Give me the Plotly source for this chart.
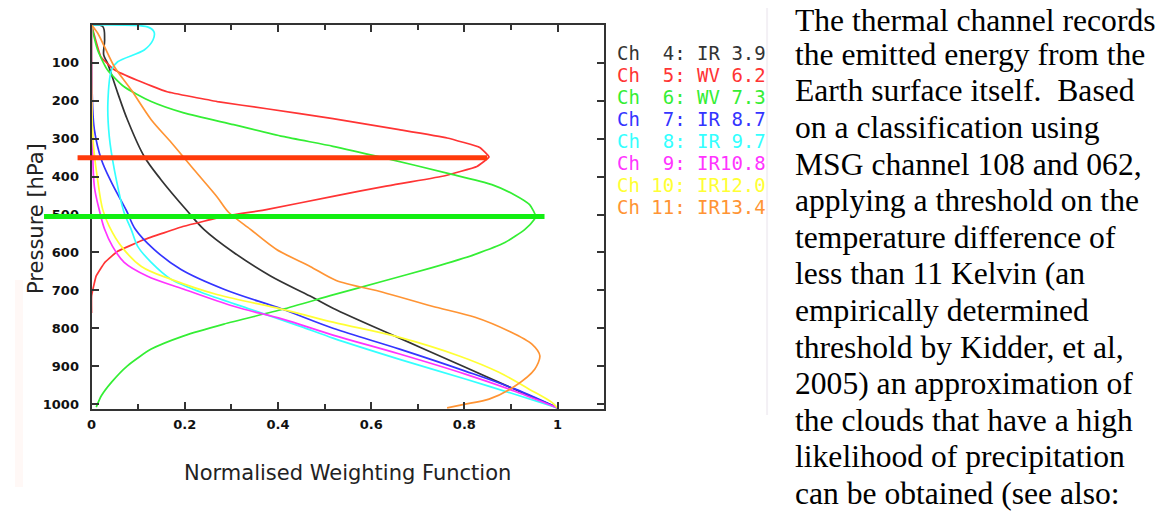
import plotly.graph_objects as go

# normalised weighting function (w) against pressure (p, hPa)
ch4_w = [0.0, 0.024, 0.028, 0.026, 0.034, 0.056, 0.077, 0.113, 0.149, 0.205, 0.241, 0.305, 0.384, 0.469, 0.518, 0.661, 0.802, 0.908, 1.0]
ch4_p = [0, 4, 39, 79, 100, 179, 250, 347, 408, 490, 539, 600, 662, 715, 747, 826, 903, 961, 1010]

ch5_w = [0.0, 0.02, 0.049, 0.098, 0.162, 0.27, 0.376, 0.518, 0.66, 0.763, 0.833, 0.853, 0.827, 0.753, 0.632, 0.518, 0.375, 0.284, 0.198, 0.113, 0.056, 0.028, 0.01, 0.0, 0.0]
ch5_p = [0, 84, 118, 146, 176, 202, 221, 247, 276, 298, 323, 348, 373, 399, 425, 452, 487, 505, 531, 566, 597, 627, 662, 715, 760]

ch6_w = [0.0, 0.002, 0.013, 0.034, 0.07, 0.128, 0.198, 0.305, 0.41, 0.518, 0.625, 0.767, 0.859, 0.906, 0.94, 0.953, 0.95, 0.93, 0.887, 0.823, 0.731, 0.625, 0.518, 0.41, 0.284, 0.198, 0.128, 0.077, 0.043, 0.021, 0.01]
ch6_p = [0, 13, 66, 118, 163, 202, 232, 263, 294, 320, 350, 392, 421, 447, 474, 505, 513, 539, 574, 605, 640, 676, 712, 750, 789, 820, 855, 899, 942, 978, 1008]

ch7_w = [0.0, 0.0, 0.002, 0.006, 0.021, 0.043, 0.075, 0.094, 0.134, 0.192, 0.284, 0.41, 0.518, 0.661, 0.802, 0.908, 1.0]
ch7_p = [0, 74, 205, 276, 355, 416, 490, 539, 592, 645, 697, 750, 800, 855, 913, 960, 1010]

ch8_w = [0.0, 0.12, 0.134, 0.132, 0.113, 0.056, 0.043, 0.035, 0.038, 0.049, 0.07, 0.085, 0.099, 0.128, 0.171, 0.235, 0.341, 0.448, 0.518, 0.661, 0.802, 0.908, 1.0]
ch8_p = [0, 5, 18, 39, 66, 97, 118, 206, 294, 382, 495, 539, 584, 626, 671, 705, 750, 795, 826, 882, 934, 974, 1010]

ch9_w = [0.0, 0.002, 0.006, 0.017, 0.028, 0.045, 0.07, 0.119, 0.198, 0.305, 0.41, 0.518, 0.661, 0.802, 0.908, 1.0]
ch9_p = [0, 300, 426, 490, 539, 584, 626, 662, 697, 742, 776, 818, 868, 921, 966, 1010]

ch10_w = [0.0, 0.003, 0.013, 0.024, 0.038, 0.064, 0.107, 0.171, 0.269, 0.41, 0.518, 0.661, 0.789, 0.874, 0.938, 0.987, 1.0]
ch10_p = [0, 300, 408, 487, 531, 584, 637, 671, 711, 750, 784, 824, 873, 916, 960, 995, 1010]

ch11_w = [0.0, 0.013, 0.028, 0.049, 0.085, 0.128, 0.171, 0.22, 0.269, 0.294, 0.341, 0.397, 0.469, 0.525, 0.625, 0.731, 0.823, 0.896, 0.945, 0.962, 0.951, 0.908, 0.853, 0.802, 0.763]
ch11_p = [0, 21, 58, 110, 171, 250, 310, 382, 453, 494, 539, 592, 637, 674, 705, 742, 771, 808, 842, 873, 908, 953, 987, 1000, 1010]

channel_labels = ["Ch  4: IR 3.9", "Ch  5: WV 6.2", "Ch  6: WV 7.3", "Ch  7: IR 8.7",
                  "Ch  8: IR 9.7", "Ch  9: IR10.8", "Ch 10: IR12.0", "Ch 11: IR13.4"]
channel_colors = ["#333333", "#ff3434", "#34ee34", "#3434ff", "#34ffff", "#ff34ff", "#ffff34", "#ff9434"]
series_w = [ch4_w, ch5_w, ch6_w, ch7_w, ch8_w, ch9_w, ch10_w, ch11_w]
series_p = [ch4_p, ch5_p, ch6_p, ch7_p, ch8_p, ch9_p, ch10_p, ch11_p]
smooth = [1.0, 0.3, 0.6, 1.0, 0.8, 1.0, 1.0, 0.8]

# peak-level markers (thick horizontal bars)
peak_p = [350, 505]
peak_w_start = [-0.03, -0.102]
peak_w_end = [0.849, 0.972]
peak_colors = ["#ff3a0a", "#12ef12"]

p_ticks = [100, 200, 300, 400, 500, 600, 700, 800, 900, 1000]
w_ticks = [0, 0.2, 0.4, 0.6, 0.8, 1]
w_tick_text = ["0", "0.2", "0.4", "0.6", "0.8", "1"]

text_lines = ["The thermal channel records", "the emitted energy from the",
              "Earth surface itself.  Based", "on a classification using",
              "MSG channel 108 and 062,", "applying a threshold on the",
              "temperature difference of", "less than 11 Kelvin (an",
              "empirically determined", "threshold by Kidder, et al,",
              "2005) an approximation of", "the clouds that have a high",
              "likelihood of precipitation", "can be obtained (see also:"]

# page geometry (pixels, page coords); the page body adds an 8px margin
OFF = 8
W, H = 1166 - OFF, 512 - OFF
L, R, T, B = 20, 780, 25, 409
AX_L, AX_R = 87, 603
X_MAX, P_MAX = 1.1, 1013


def px(x):
    return (x - L) / (R - L)


def py(y):
    return (B - y) / (B - T)


nb = lambda s: s.replace(" ", "\u00a0")

fig = go.Figure()
for w, p, col, sm in zip(series_w, series_p, channel_colors, smooth):
    fig.add_trace(go.Scatter(x=w, y=p, mode="lines", line=dict(color=col, width=1.7, shape="spline", smoothing=sm),
                             showlegend=False, hoverinfo="skip"))

for p, w0, w1, col in zip(peak_p, peak_w_start, peak_w_end, peak_colors):
    fig.add_trace(go.Scatter(x=[w0, w1], y=[p, p], mode="lines", line=dict(color=col, width=5),
                             xaxis="x2", yaxis="y2", showlegend=False, hoverinfo="skip"))

scale = (AX_R - AX_L) / X_MAX
x2_left = -(AX_L - 30) / scale

tickfont = dict(family="DejaVu Sans", size=13, color="#111", weight="bold")
axis_common = dict(showline=True, linecolor="#333", linewidth=2, mirror="ticks", ticks="inside",
                   tickcolor="#333", tickwidth=2, ticklen=7, showgrid=False, zeroline=False, tickfont=tickfont)

fig.update_layout(
    width=W, height=H, margin=dict(l=L - OFF, r=W + OFF - R, t=T - OFF, b=H + OFF - B),
    paper_bgcolor="white", plot_bgcolor="rgba(0,0,0,0)",
    xaxis=dict(domain=[px(AX_L), px(AX_R)], range=[0, X_MAX], tickvals=w_ticks, ticktext=w_tick_text,
               ticklabelstandoff=2, minor=dict(ticks="inside", ticklen=5, tickwidth=2, tickcolor="#333",
                                               tick0=0, dtick=0.1), **axis_common),
    yaxis=dict(domain=[0, 1], range=[P_MAX, 0], tickvals=p_ticks, ticklabelstandoff=8, **axis_common),
    xaxis2=dict(domain=[px(30), px(AX_R)], range=[x2_left, X_MAX], anchor="y2", visible=False),
    yaxis2=dict(domain=[0, 1], range=[P_MAX, 0], anchor="x2", visible=False),
)

ann = []
ann.append(dict(text="Normalised Weighting Function", x=px(345), y=py(473), xref="paper", yref="paper",
                xanchor="center", yanchor="middle", showarrow=False,
                font=dict(family="DejaVu Sans", size=21, color="#222")))
ann.append(dict(text="Pressure [hPa]", x=px(31), y=py(218), xref="paper", yref="paper", textangle=-90,
                xanchor="center", yanchor="middle", showarrow=False,
                font=dict(family="DejaVu Sans", size=21, color="#222")))
for i, (lab, col) in enumerate(zip(channel_labels, channel_colors)):
    ann.append(dict(text=nb(lab), x=px(614), y=py(53 + 22 * i), xref="paper", yref="paper",
                    xanchor="left", yanchor="middle", showarrow=False,
                    font=dict(family="DejaVu Sans Mono", size=19, color=col)))
for i, line in enumerate(text_lines):
    base = 28.3 + 36.6 * i + (2.5 if i == 0 else 0)  # first line kept inside the page top
    ann.append(dict(text=nb(line), x=px(793), y=py(base - 10.7), xref="paper", yref="paper",
                    xanchor="left", yanchor="middle", showarrow=False,
                    font=dict(family="Liberation Serif", size=31.6, color="black")))
fig.update_layout(annotations=ann)

# faint scan artefacts in the source image
fig.add_shape(type="line", xref="paper", yref="paper", x0=px(767), x1=px(767), y0=py(OFF), y1=py(415),
              line=dict(color="#f3f0f5", width=2), layer="below")
fig.add_shape(type="rect", xref="paper", yref="paper", x0=px(10), x1=px(18), y0=py(487), y1=py(280),
              line=dict(width=0), fillcolor="#fff8f6", layer="below")

fig.write_html("out.html")
